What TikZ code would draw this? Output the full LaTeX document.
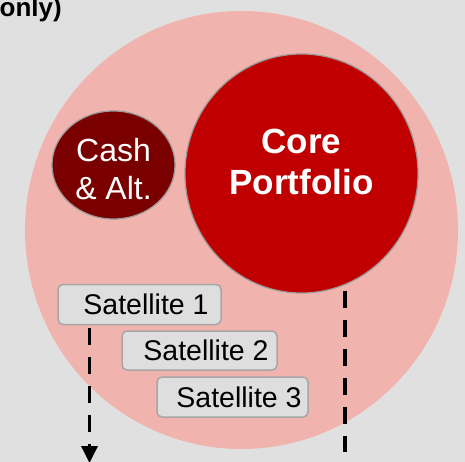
\documentclass[tikz,border=0pt]{standalone}
\usepackage{fontspec}
\setmainfont{Liberation Sans}
\usepackage{tikz}
\usetikzlibrary{shapes.geometric, arrows.meta, positioning}
\definecolor{bggrey}{RGB}{224, 224, 224}
\definecolor{pinkzone}{RGB}{240, 179, 174}
\definecolor{corered}{RGB}{192, 0, 0}
\definecolor{cashred}{RGB}{122, 0, 0}
\definecolor{boxgrey}{RGB}{222, 222, 222}
\definecolor{edgegrey}{RGB}{166, 166, 166}

\begin{document}
\begin{tikzpicture}[x=1pt, y=-1pt,
    satbox/.style={draw=edgegrey, line width=1.5pt, fill=boxgrey, rounded corners=5pt,
        minimum height=40pt, inner sep=0pt, font=\fontsize{28.5}{32}\selectfont},
    bubble/.style={ellipse, draw=gray!80, line width=1.2pt, inner sep=0pt},
    flow/.style={line width=3.5pt, dash pattern=on 17pt off 12pt}]
    \useasboundingbox (0,0) rectangle (465,462);
    \fill[bggrey] (0,0) rectangle (465,462);

    % Heading, cut off at the top
    \node[anchor=base east, inner sep=0pt, font=\fontsize{26}{30}\selectfont\bfseries] (heading) at (62,17) {only)};

    % Outer zone
    \fill[pinkzone] (241.5,230) ellipse [x radius=216.5pt, y radius=219pt];

    % Bubbles
    \node[bubble, fill=corered, minimum width=233pt, minimum height=239pt] (core) at (301.5,173.5) {};
    \node[bubble, fill=cashred, minimum width=123pt, minimum height=108pt] (cash) at (113.5,165) {};
    \node[white, align=center, font=\fontsize{35}{41}\selectfont\bfseries] (coretext) at ([yshift=12pt]core.center) {Core\\Portfolio};
    \node[white, align=center, font=\fontsize{32}{38}\selectfont] (cashtext) at ([yshift=-4pt]cash.center) {Cash\\\& Alt.};

    % Satellites
    \node[satbox, minimum width=163pt] (sat1) at (139.5,304.5) {\hspace{13pt}Satellite 1};
    \node[satbox, minimum width=155pt, minimum height=39pt] (sat2) at (199.5,350.5) {\hspace{13pt}Satellite 2};
    \node[satbox, minimum width=151pt] (sat3) at (232.5,397) {\hspace{13pt}Satellite 3};

    % Outflows
    \coordinate (outleft) at (89.5,463);
    \coordinate (outright) at (345,452);
    \draw[flow, -{Triangle[length=17pt, width=16pt]}] ([yshift=-2.5pt]sat1.south -| outleft) -- (outleft);
    \draw[flow] ([yshift=3pt]core.south -| outright) -- (outright);
\end{tikzpicture}
\end{document}
